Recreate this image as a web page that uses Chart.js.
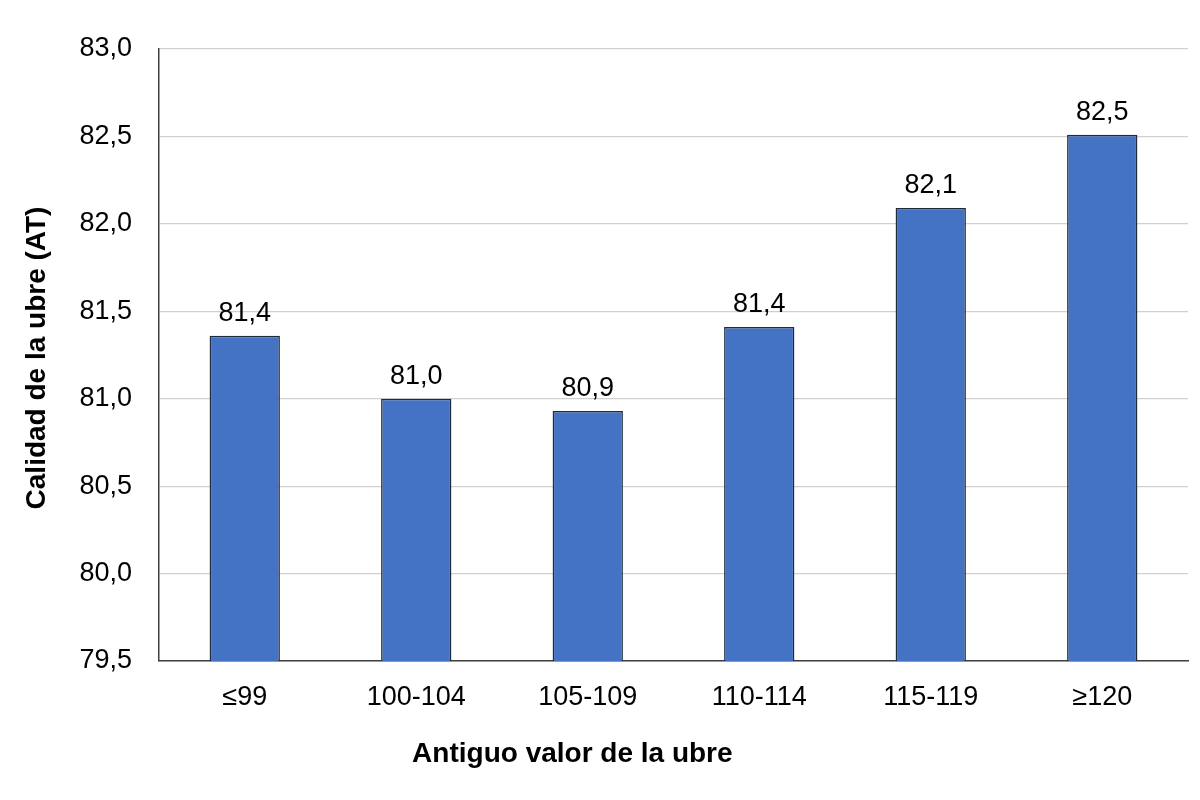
<!DOCTYPE html>
<html>
<head>
<meta charset="utf-8">
<script src="https://cdn.jsdelivr.net/npm/chart.js@4/dist/chart.umd.min.js"></script>
<style>
  html, body { margin: 0; padding: 0; background: #ffffff; }
  #wrap { width: 1200px; height: 800px; position: relative; }
</style>
</head>
<body>
<div id="wrap"><canvas id="c"></canvas></div>
<script>
const categories = ['≤99', '100-104', '105-109', '110-114', '115-119', '≥120'];
const values = [81.36, 81.0, 80.93, 81.41, 82.09, 82.51];
const yMin = 79.5;
const yMax = 83.0;
const yStep = 0.5;
const xTitle = 'Antiguo valor de la ubre';
const yTitle = 'Calidad de la ubre (AT)';

const FONT = "'Liberation Sans', Arial, sans-serif";
const fmt = v => Number(v).toFixed(1).replace('.', ',');

const labelsPlugin = {
  id: 'customText',
  afterDatasetsDraw(chart) {
    const ctx = chart.ctx;
    const meta = chart.getDatasetMeta(0);
    ctx.save();
    ctx.fillStyle = '#000000';
    ctx.font = '27px ' + FONT;
    ctx.textAlign = 'center';
    ctx.textBaseline = 'alphabetic';
    meta.data.forEach((bar, i) => {
      ctx.fillText(fmt(values[i]), bar.x, bar.y - 15);
    });
    // axis titles
    const area = chart.chartArea;
    ctx.font = 'bold 28px ' + FONT;
    ctx.textAlign = 'center';
    ctx.textBaseline = 'alphabetic';
    ctx.fillText(xTitle, area.left + (area.right - area.left) * 0.4017, area.bottom + 101);
    ctx.save();
    ctx.translate(45, (area.top + area.bottom) / 2 + 3);
    ctx.rotate(-Math.PI / 2);
    ctx.fillText(yTitle, 0, 0);
    ctx.restore();
    ctx.restore();
  }
};

new Chart(document.getElementById('c'), {
  type: 'bar',
  data: {
    labels: categories,
    datasets: [{
      data: values,
      backgroundColor: '#4472C4',
      borderColor: '#1f2a3a',
      borderWidth: 1.5,
      borderSkipped: 'bottom',
      categoryPercentage: 1.0,
      barPercentage: 0.41
    }]
  },
  options: {
    responsive: true,
    maintainAspectRatio: false,
    animation: false,
    layout: { padding: { left: 0, top: 49, right: 12, bottom: 0 } },
    plugins: {
      legend: { display: false },
      tooltip: { enabled: false },
      title: { display: false }
    },
    scales: {
      x: {
        grid: { display: false, drawTicks: false },
        border: { display: true, color: '#404040', width: 1.5 },
        ticks: {
          color: '#000000',
          font: { family: FONT, size: 27 },
          padding: 20,
          maxRotation: 0
        },
        afterFit(scale) { scale.height = 139; }
      },
      y: {
        min: yMin,
        max: yMax,
        grid: { color: '#d0d0d0', lineWidth: 1.2, drawTicks: false },
        border: { display: true, color: '#404040', width: 1.5 },
        ticks: {
          stepSize: yStep,
          color: '#000000',
          font: { family: FONT, size: 27 },
          padding: 27,
          callback: v => fmt(v)
        },
        afterFit(scale) { scale.width = 159; }
      }
    }
  },
  plugins: [labelsPlugin]
});
</script>
</body>
</html>
